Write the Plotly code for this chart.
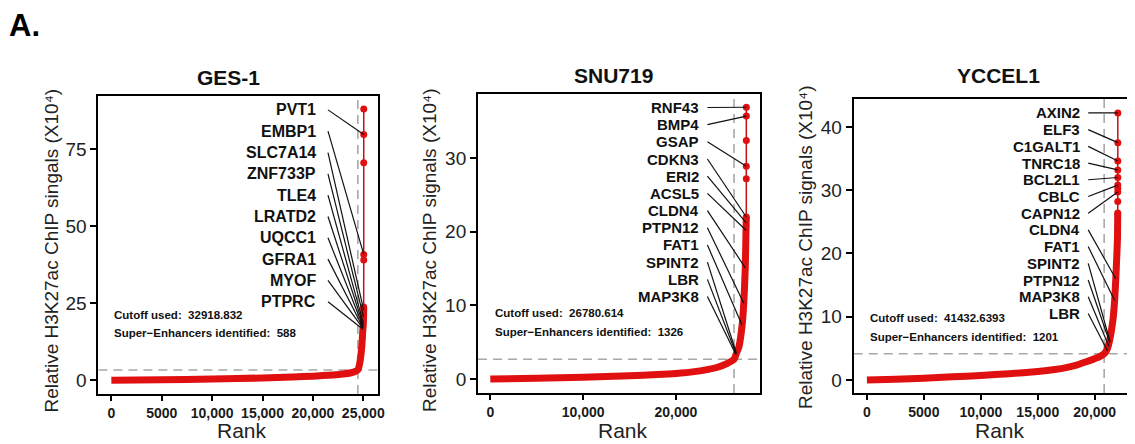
import plotly.graph_objects as go

W, H = 1135, 444
OFF = 8                      # browser body margin
FW, FH = W - OFF, H - OFF    # figure size that fits in the window
RED = "#e01010"
DARKRED = "#c41212"
GRAY = "#a8a8a8"

# ---------------- data (signals in units of 10^4) ----------------
ges_total = 25048
ges_cutoff = 32918.832
ges_se = 588
ges_rank = [0, 5000, 10000, 15000, 18000, 20000, 22000, 23000, 23800, 24200, 24460, 24650, 24850, 24960, 25000, 25025, 25040, 25043]
ges_signal = [0.0, 0.15, 0.35, 0.7, 1.0, 1.3, 1.7, 2.0, 2.4, 2.8, 3.3, 5.5, 10.8, 16.5, 17.8, 20.5, 22.7, 23.7]
ges_top_rank = [25043, 25044, 25045, 25046, 25047, 25048]
ges_top_signal = [23.7, 39.0, 40.8, 70.5, 79.7, 88.0]
ges_genes = ["PVT1", "EMBP1", "SLC7A14", "ZNF733P", "TLE4", "LRATD2", "UQCC1", "GFRA1", "MYOF", "PTPRC"]
ges_gene_rank = [25047, 25045, 25040, 25025, 25010, 25000, 24990, 24980, 24970, 24960]
ges_gene_signal = [79.7, 40.8, 22.7, 20.5, 18.5, 17.8, 17.3, 17.0, 16.8, 16.5]

snu_total = 27596
snu_cutoff = 26780.614
snu_se = 1326
snu_rank = [0, 5000, 10000, 15000, 18000, 20000, 22000, 23500, 24500, 25500, 26270, 26500, 26800, 27140, 27320, 27480, 27560, 27580, 27590]
snu_signal = [0.0, 0.1, 0.25, 0.45, 0.6, 0.75, 1.0, 1.3, 1.6, 2.1, 2.68, 3.4, 4.4, 7.3, 10.3, 15.1, 20.2, 21.2, 22.0]
snu_top_rank = [27590, 27592, 27593, 27594, 27595, 27596]
snu_top_signal = [22.0, 27.2, 28.9, 32.4, 35.7, 36.9]
snu_genes = ["RNF43", "BMP4", "GSAP", "CDKN3", "ERI2", "ACSL5", "CLDN4", "PTPN12", "FAT1", "SPINT2", "LBR", "MAP3K8"]
snu_gene_rank = [27596, 27595, 27593, 27590, 27580, 27560, 27480, 27320, 27140, 26520, 26500, 26480]
snu_gene_signal = [36.9, 35.7, 28.9, 22.0, 21.2, 20.2, 15.1, 10.3, 7.3, 3.5, 3.4, 3.3]

ycc_total = 22031
ycc_cutoff = 41432.6393
ycc_se = 1201
ycc_rank = [0, 2500, 5000, 7500, 10000, 12500, 15000, 16500, 17500, 18400, 19200, 19900, 20400, 20830, 21100, 21300, 21600, 21750, 21850, 21950, 22000, 22022]
ycc_signal = [0.0, 0.12, 0.3, 0.5, 0.72, 1.0, 1.35, 1.65, 1.95, 2.35, 2.85, 3.3, 3.65, 4.14, 4.9, 6.2, 9.5, 12.6, 16.0, 20.0, 22.5, 26.4]
ycc_top_rank = [22022, 22023, 22024, 22025, 22026, 22027, 22028, 22029, 22030, 22031]
ycc_top_signal = [26.4, 28.2, 29.7, 30.3, 30.8, 32.0, 33.2, 34.6, 37.5, 42.2]
ycc_genes = ["AXIN2", "ELF3", "C1GALT1", "TNRC18", "BCL2L1", "CBLC", "CAPN12", "CLDN4", "FAT1", "SPINT2", "PTPN12", "MAP3K8", "LBR"]
ycc_gene_rank = [22031, 22030, 22029, 22028, 22027, 22026, 22024, 21850, 21740, 21350, 21330, 21250, 21130]
ycc_gene_signal = [42.2, 37.5, 34.6, 33.2, 32.0, 30.8, 29.7, 16.0, 12.6, 6.05, 5.9, 5.3, 4.6]

titles = ["GES-1", "SNU719", "YCCEL1"]
ytitles = ["Relative H3K27ac ChIP singals (X10\u2074)",
           "Relative H3K27ac ChIP signals (X10\u2074)",
           "Relative H3K27ac ChIP signals (X10\u2074)"]
x_tickvals = [[0, 5000, 10000, 15000, 20000, 25000], [0, 10000, 20000], [0, 5000, 10000, 15000, 20000]]
x_ticktext = [["0", "5000", "10,000", "15,000", "20,000", "25,000"], ["0", "10,000", "20,000"],
              ["0", "5000", "10,000", "15,000", "20,000"]]
y_tickvals = [[0, 25, 50, 75], [0, 10, 20, 30], [0, 10, 20, 30, 40]]

panels = [
    dict(total=ges_total, cutoff=ges_cutoff, se=ges_se, rank=ges_rank, sig=ges_signal,
         trank=ges_top_rank, tsig=ges_top_signal, genes=ges_genes, grank=ges_gene_rank, gsig=ges_gene_signal),
    dict(total=snu_total, cutoff=snu_cutoff, se=snu_se, rank=snu_rank, sig=snu_signal,
         trank=snu_top_rank, tsig=snu_top_signal, genes=snu_genes, grank=snu_gene_rank, gsig=snu_gene_signal),
    dict(total=ycc_total, cutoff=ycc_cutoff, se=ycc_se, rank=ycc_rank, sig=ycc_signal,
         trank=ycc_top_rank, tsig=ycc_top_signal, genes=ycc_genes, grank=ycc_gene_rank, gsig=ycc_gene_signal),
]

# ---------------- layout parameters (window pixels) ----------------
frames = [(99, 380, 96, 394), (481, 765, 94, 393), (859, 1135, 99, 393)]
xranges = [[-1280, 26430], [-1320, 29100], [-1160, 22923]]
yranges = [[-4.5, 92.2], [-1.9, 38.7], [-2.05, 44.4]]
label_x = [20513, 22690, 18850]       # right edge of gene labels (rank units)
line_x0 = [21499, 23400, 19430]       # start of leader lines
label_top = [87.7, 36.87, 42.2]
label_step = [6.92, 2.334, 2.64]
label_size = [16, 15, 15]
title_pos = [(229.5, 77), (617.5, 76), (1004.5, 75)]
ytitle_pos = [(51.7, 250), (431.7, 250), (810, 247)]
rank_pos = [(243.5, 444), (627, 444), (1006, 444)]
cut_pos = [(113, 315, 333), (496, 313, 332), (873, 318, 337)]

FONT = "Liberation Sans, Arial, sans-serif"
NARROW = "Liberation Sans Narrow, Arial Narrow, Liberation Sans, Arial, sans-serif"

fig = go.Figure()
annotations = []
shapes = []
layout = {}


def px(xp):
    return (xp - OFF) / FW


def py(yp):
    return 1 - (yp - OFF) / FH


for i, p in enumerate(panels):
    sfx = "" if i == 0 else str(i + 1)
    xa, ya = "x" + sfx, "y" + sfx
    l, r, t, b = frames[i]
    layout["xaxis" + sfx] = dict(
        domain=[px(l), min(px(r), 1.0)], range=xranges[i], anchor=ya,
        showline=True, linewidth=2, linecolor="black", mirror=True,
        showgrid=False, zeroline=False, ticks="outside", ticklen=5, tickwidth=1.5, tickcolor="black",
        tickvals=x_tickvals[i], ticktext=x_ticktext[i],
        tickfont=dict(family=NARROW, size=14, color="#1a1a1a", weight="bold"),
    )
    layout["yaxis" + sfx] = dict(
        domain=[py(b), py(t)], range=yranges[i], anchor=xa,
        showline=True, linewidth=2, linecolor="black", mirror=(i < 2),
        showgrid=False, zeroline=False, ticks="outside", ticklen=6, tickwidth=1.5, tickcolor="black",
        tickvals=y_tickvals[i],
        tickfont=dict(family=FONT, size=19, color="#222222"),
    )

    # curve
    fig.add_trace(go.Scatter(x=p["rank"], y=p["sig"], mode="lines",
                             line=dict(color=RED, width=7, shape="spline", smoothing=0.5),
                             xaxis=xa, yaxis=ya, hoverinfo="skip", showlegend=False))
    fig.add_trace(go.Scatter(x=p["trank"], y=p["tsig"], mode="lines+markers",
                             line=dict(color=DARKRED, width=1.5),
                             marker=dict(size=7, color=RED), xaxis=xa, yaxis=ya,
                             hoverinfo="skip", showlegend=False))

    # cutoff lines
    cut_y = p["cutoff"] / 1e4
    cut_x = p["total"] - p["se"]
    shapes.append(dict(type="line", xref=xa + " domain", yref=ya, x0=0, x1=1, y0=cut_y, y1=cut_y,
                       line=dict(color=GRAY, width=1.6, dash="9px,6px"), layer="below"))
    shapes.append(dict(type="line", xref=xa, yref=ya + " domain", x0=cut_x, x1=cut_x, y0=0, y1=1,
                       line=dict(color=GRAY, width=1.6, dash="9px,6px"), layer="below"))

    # gene labels + leader lines
    lx, ly = [], []
    for k, g in enumerate(p["genes"]):
        yy = label_top[i] - k * label_step[i]
        annotations.append(dict(x=label_x[i], y=yy, xref=xa, yref=ya, text="<b>%s</b>" % g,
                                showarrow=False, xanchor="right", yanchor="middle",
                                font=dict(family=FONT, size=label_size[i], color="#111111")))
        lx += [line_x0[i], p["grank"][k], None]
        ly += [yy, p["gsig"][k], None]
    fig.add_trace(go.Scatter(x=lx, y=ly, mode="lines", line=dict(color="#111111", width=1.2),
                             xaxis=xa, yaxis=ya, hoverinfo="skip", showlegend=False))

    # titles
    tx, ty = title_pos[i]
    annotations.append(dict(x=px(tx), y=py(ty), xref="paper", yref="paper", text="<b>%s</b>" % titles[i],
                            showarrow=False, xanchor="center", yanchor="middle",
                            font=dict(family=FONT, size=21, color="#111111")))
    yx, yy2 = ytitle_pos[i]
    annotations.append(dict(x=px(yx), y=py(yy2), xref="paper", yref="paper", text=ytitles[i],
                            textangle=-90, showarrow=False, xanchor="center", yanchor="middle",
                            font=dict(family=FONT, size=19, color="#222222")))
    rx, ry = rank_pos[i]
    annotations.append(dict(x=px(rx), y=py(ry), xref="paper", yref="paper", text="Rank",
                            showarrow=False, xanchor="center", yanchor="bottom",
                            font=dict(family=FONT, size=21, color="#222222")))
    cx, cy1, cy2 = cut_pos[i]
    cut_str = ("%.4f" % p["cutoff"]).rstrip("0")
    annotations.append(dict(x=px(cx), y=py(cy1), xref="paper", yref="paper",
                            text="<b>Cutoff used:  %s</b>" % cut_str,
                            showarrow=False, xanchor="left", yanchor="middle",
                            font=dict(family=FONT, size=11.5, color="#111111")))
    annotations.append(dict(x=px(cx), y=py(cy2), xref="paper", yref="paper",
                            text="<b>Super\u2212Enhancers identified:  %d</b>" % p["se"],
                            showarrow=False, xanchor="left", yanchor="middle",
                            font=dict(family=FONT, size=11.5, color="#111111")))

annotations.append(dict(x=px(25), y=py(25), xref="paper", yref="paper", text="<b>A.</b>",
                        showarrow=False, xanchor="center", yanchor="middle",
                        font=dict(family=FONT, size=31, color="#000000")))

fig.update_layout(width=FW, height=FH, autosize=False, margin=dict(l=0, r=0, t=0, b=0),
                  paper_bgcolor="white", plot_bgcolor="white",
                  annotations=annotations, shapes=shapes, showlegend=False, **layout)
fig.write_html("out.html")
